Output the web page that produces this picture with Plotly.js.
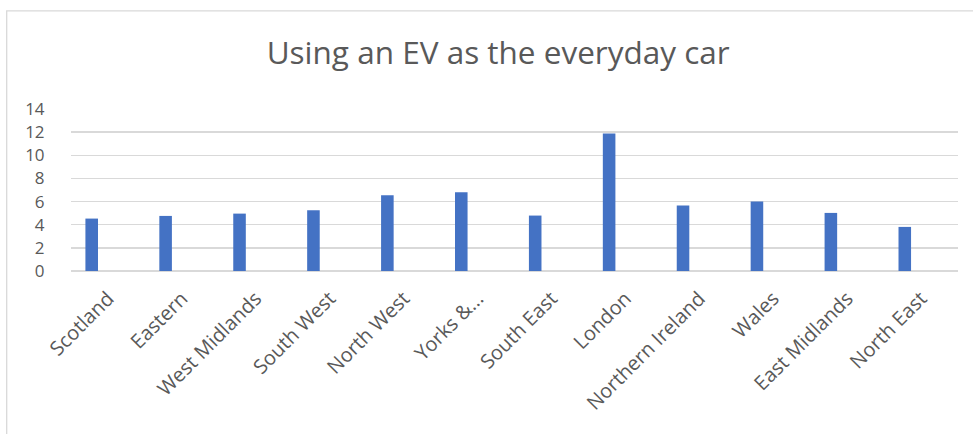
<!DOCTYPE html>
<html>
<head>
<meta charset="utf-8">
<script src="https://cdn.plot.ly/plotly-3.0.1.min.js"></script>
<style>html,body{margin:0;padding:0;background:#fff;}#chart{width:973px;height:434px;}</style>
</head>
<body>
<div id="chart"></div>
<script>
const categories = ["Scotland","Eastern","West Midlands","South West","North West","Yorks &...","South East","London","Northern Ireland","Wales","East Midlands","North East"];
const values = [4.53, 4.76, 4.96, 5.25, 6.55, 6.81, 4.79, 11.89, 5.66, 6.0, 5.02, 3.81];
const yTicks = [0, 2, 4, 6, 8, 10, 12, 14];
const chartTitle = "Using an EV as the everyday car";

const font = "Open Sans, Noto Sans, sans-serif";
const trace = {
  type: "bar",
  x: categories,
  y: values,
  width: 0.17,
  offset: -0.305,
  marker: {color: "#4472C4", line: {width: 0}},
  hoverinfo: "x+y"
};
const layout = {
  width: 973, height: 434,
  margin: {l: 71, r: 15, t: 109, b: 163},
  paper_bgcolor: "#ffffff", plot_bgcolor: "#ffffff",
  showlegend: false,
  title: {text: chartTitle, font: {family: font, size: 31.5, color: "#595959"}, x: 0.512, xanchor: "center", y: 0.877, yanchor: "middle"},
  xaxis: {
    type: "category",
    range: [-0.5, 11.5],
    tickangle: -45,
    tickfont: {family: font, size: 20, color: "#595959"},
    ticks: "outside", ticklen: 7, tickcolor: "rgba(0,0,0,0)",
    showgrid: false, showline: false, zeroline: false,
    fixedrange: true
  },
  yaxis: {
    range: [0, 14],
    tickvals: yTicks,
    ticktext: yTicks.map(String),
    tickfont: {family: font, size: 17, color: "#595959"},
    ticks: "outside", ticklen: 22, tickcolor: "rgba(0,0,0,0)",
    showgrid: true, gridcolor: "#d9d9d9", gridwidth: 1.3,
    zeroline: true, zerolinecolor: "#d9d9d9", zerolinewidth: 1.3,
    showline: false,
    fixedrange: true
  },
  shapes: [{
    type: "rect", xref: "paper", yref: "paper",
    x0: -0.0725, x1: 1.1, y0: -1.3, y1: 1.606,
    line: {color: "#d9d9d9", width: 1.3}, fillcolor: "rgba(0,0,0,0)", layer: "below"
  }]
};
Plotly.newPlot("chart", [trace], layout, {displayModeBar: false, staticPlot: true});
</script>
</body>
</html>
